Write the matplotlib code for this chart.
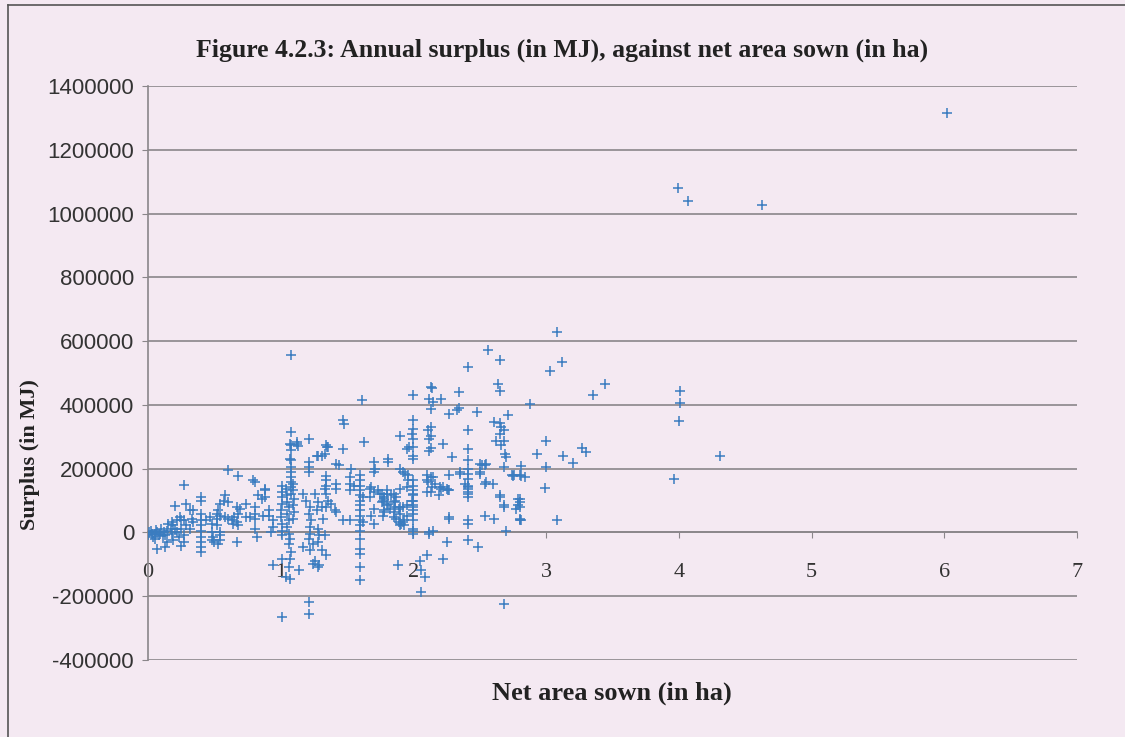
import numpy as np
import matplotlib.pyplot as plt
from matplotlib.lines import Line2D

# (net area sown in ha, annual surplus in MJ), grouped roughly by area
near_origin = [
    (0.00, -9000), (0.02, 6000), (0.03, -4000), (0.04, -15000), (0.05, -20000),
    (0.07, 1000), (0.07, -51000), (0.08, -9000), (0.09, -4000), (0.10, 12000),
    (0.12, 1000), (0.13, -9000), (0.13, -46000), (0.14, 6000), (0.14, -30000),
    (0.15, 27000), (0.17, 12000), (0.18, 32000), (0.18, -4000), (0.19, 22000),
    (0.19, -25000), (0.20, 12000), (0.20, 82000), (0.22, 38000), (0.22, 1000),
    (0.23, -15000), (0.24, 48000), (0.25, 38000), (0.25, 12000), (0.25, -41000),
    (0.27, 150000), (0.27, 38000), (0.27, -9000), (0.27, -30000), (0.29, 90000),
    (0.29, 22000), (0.32, 69000), (0.32, 12000), (0.33, 43000), (0.34, 69000),
    (0.34, 32000), (0.01, 0), (0.05, -5000), (0.11, -12000), (0.06, 8000),
]
half_ha = [
    (0.40, 111000), (0.40, 100000), (0.40, 59000), (0.40, 38000), (0.40, 22000),
    (0.40, 6000), (0.40, -15000), (0.40, -30000), (0.40, -46000), (0.40, -62000),
    (0.44, 38000), (0.47, 48000), (0.48, 27000), (0.52, 43000), (0.52, 22000),
    (0.48, 1000), (0.49, -15000), (0.48, -25000), (0.54, 1000), (0.54, -9000),
    (0.54, -25000), (0.53, -35000), (0.50, -30000), (0.53, 69000), (0.54, 53000),
    (0.52, 59000), (0.58, 48000), (0.60, 43000), (0.63, 38000), (0.58, 116000),
    (0.57, 100000), (0.54, 90000), (0.60, 95000), (0.60, 197000), (0.68, 176000),
    (0.67, 79000), (0.68, 59000), (0.65, 48000), (0.67, 32000), (0.64, 27000),
    (0.68, 22000), (0.69, 74000), (0.74, 90000), (0.67, -30000), (0.77, 48000),
    (0.74, 48000), (0.79, 163000), (0.81, 158000), (0.83, 116000), (0.81, 79000),
    (0.81, 59000), (0.81, 43000), (0.81, 12000), (0.82, -15000), (0.88, 111000),
    (0.88, 134000),
]
one_ha = [
    (0.88, 137000), (0.86, 106000), (0.87, 53000), (0.91, 69000), (0.91, 53000),
    (0.94, 38000), (0.94, 17000), (0.93, 1000), (0.94, -103000),
    (1.01, 147000), (1.01, 126000), (1.01, 111000), (1.01, 90000), (1.00, 69000),
    (1.00, 48000), (1.01, 27000), (1.01, 6000), (1.01, -9000), (1.01, -82000),
    (1.01, -265000), (1.04, 137000), (1.05, 116000), (1.05, 95000), (1.06, 79000),
    (1.05, 59000), (1.06, 38000), (1.05, 17000), (1.06, -4000), (1.07, -20000),
    (1.06, -35000), (1.08, -62000), (1.07, -82000), (1.06, -109000), (1.04, -140000),
    (1.07, -145000), (1.09, 153000), (1.09, 132000), (1.10, 106000), (1.09, 85000),
    (1.10, 64000), (1.09, 43000), (1.14, -119000), (1.08, 555000), (1.08, 314000),
    (1.07, 278000), (1.08, 273000), (1.12, 283000), (1.13, 270000), (1.12, 278000),
    (1.08, 257000), (1.07, 231000), (1.08, 226000), (1.08, 205000), (1.08, 189000),
    (1.08, 173000), (1.08, 158000), (1.08, 142000), (1.08, 121000),
]
one_and_quarter_ha = [
    (1.17, 121000), (1.19, 100000), (1.22, 79000), (1.21, 59000), (1.23, 38000),
    (1.22, 17000), (1.22, -4000), (1.21, -20000), (1.24, -35000), (1.22, -56000),
    (1.17, -46000), (1.21, -218000), (1.21, -255000), (1.21, 294000), (1.21, 220000),
    (1.21, 205000), (1.21, 189000), (1.26, 121000), (1.28, 95000), (1.31, 79000),
    (1.27, 69000), (1.32, 43000), (1.28, 12000), (1.29, -9000), (1.28, -30000),
    (1.31, -56000), (1.26, -88000), (1.24, -98000), (1.28, -109000), (1.29, -103000),
    (1.34, -72000), (1.33, -9000), (1.34, 79000), (1.36, 100000), (1.38, 90000),
    (1.41, 69000), (1.42, 64000), (1.35, 267000), (1.33, 247000), (1.28, 241000),
    (1.31, 241000), (1.27, 241000), (1.36, 267000), (1.34, 273000), (1.34, 176000),
    (1.34, 163000), (1.34, 147000), (1.33, 137000), (1.34, 121000), (1.42, 153000),
    (1.42, 137000), (1.42, 215000), (1.44, 213000), (1.47, 353000), (1.48, 341000),
    (1.47, 262000), (1.47, 38000), (1.52, 38000), (1.52, 173000), (1.53, 200000),
    (1.52, 153000), (1.52, 132000), (1.55, 147000),
]
one_and_half_ha = [
    (1.60, 179000), (1.60, 163000), (1.60, 147000), (1.60, 132000), (1.60, 116000),
    (1.60, 100000), (1.60, 85000), (1.60, 69000), (1.60, 53000), (1.60, 38000),
    (1.60, 22000), (1.60, 6000), (1.60, -20000), (1.60, -51000), (1.60, -67000),
    (1.60, -109000), (1.60, -150000), (1.61, 416000), (1.63, 283000), (1.62, 111000),
    (1.62, 32000), (1.67, 137000), (1.70, 189000), (1.71, 200000), (1.70, 220000),
    (1.68, 142000), (1.70, 126000), (1.67, 111000), (1.70, 74000), (1.68, 53000),
    (1.70, 27000), (1.73, 132000), (1.75, 121000), (1.76, 121000), (1.78, 111000),
    (1.78, 106000), (1.80, 132000), (1.76, 95000), (1.81, 90000), (1.78, 64000),
    (1.77, 53000), (1.83, 116000), (1.86, 100000), (1.85, 95000), (1.87, 111000),
    (1.82, 74000), (1.85, 64000), (1.85, 48000), (1.89, 32000), (1.91, 27000),
    (1.93, 22000), (1.89, 74000), (1.92, 79000), (1.90, 79000), (1.95, 53000),
    (1.93, 38000), (1.90, 59000), (1.95, 85000), (1.99, 100000), (1.81, 231000),
    (1.81, 220000), (1.88, -103000),
]
two_ha = [
    (1.94, 184000), (1.96, 163000), (1.95, 142000), (1.90, 137000), (1.85, 121000),
    (1.80, 121000), (1.77, 100000), (1.80, 85000), (1.78, 69000), (1.86, 79000),
    (1.87, 43000), (1.92, 32000), (1.90, 22000), (2.00, 38000), (2.00, 163000),
    (2.00, 147000), (2.00, 132000), (2.00, 121000), (2.00, 116000), (2.00, 100000),
    (2.00, 85000), (2.00, 79000), (2.00, 69000), (2.00, 59000), (2.00, 12000),
    (2.00, 6000), (2.00, -4000), (1.90, 200000), (1.92, 189000), (1.96, 179000),
    (2.00, 430000), (2.00, 353000), (2.00, 325000), (2.00, 294000), (2.00, 267000),
    (2.00, 241000), (2.00, 231000), (1.90, 301000), (1.99, 309000), (1.97, 267000),
    (1.95, 262000),
]
two_and_quarter_ha = [
    (2.10, 163000), (2.14, 142000), (2.16, 153000), (2.22, 142000), (2.25, 137000),
    (2.27, 132000), (2.19, 116000), (2.10, 126000), (2.10, 179000), (2.11, 158000),
    (2.20, 142000), (2.21, 137000), (2.26, 132000), (2.15, 173000), (2.13, 126000),
    (2.13, 173000), (2.27, 179000), (2.27, 48000), (2.27, 43000), (2.15, 6000),
    (2.12, 1000), (2.12, -4000), (2.25, -30000), (2.22, -82000), (2.10, -72000),
    (2.05, -88000), (2.06, -119000), (2.09, -140000), (2.06, -187000),
    (2.14, 452000), (2.13, 455000), (2.12, 419000), (2.15, 408000), (2.21, 419000),
    (2.13, 388000), (2.13, 332000), (2.11, 320000), (2.13, 304000), (2.12, 294000),
    (2.13, 264000), (2.12, 255000), (2.22, 278000), (2.29, 238000), (2.27, 372000),
    (2.34, 440000), (2.34, 391000), (2.33, 385000),
]
two_and_half_ha = [
    (2.35, 189000), (2.35, 184000), (2.41, 200000), (2.41, 184000), (2.41, 168000),
    (2.39, 153000), (2.41, 147000), (2.41, 142000), (2.41, 137000), (2.41, 126000),
    (2.41, 121000), (2.41, 111000), (2.41, 38000), (2.41, 27000), (2.41, -25000),
    (2.49, -46000), (2.50, 189000), (2.50, 184000), (2.50, 215000), (2.52, 210000),
    (2.54, 213000), (2.55, 215000), (2.55, 158000), (2.54, 153000), (2.60, 153000),
    (2.54, 53000), (2.61, 43000), (2.65, 116000), (2.65, 111000), (2.68, 85000),
    (2.68, 79000), (2.68, 205000), (2.41, 520000), (2.41, 322000), (2.41, 262000),
    (2.41, 226000), (2.48, 377000), (2.56, 571000), (2.65, 541000), (2.64, 466000),
    (2.65, 443000), (2.61, 346000), (2.65, 343000), (2.66, 330000), (2.68, 320000),
    (2.65, 309000), (2.68, 288000), (2.62, 288000), (2.66, 273000), (2.69, 247000),
    (2.70, 236000), (2.71, 367000), (2.70, 4000), (2.68, -224000),
]
three_ha = [
    (2.74, 179000), (2.76, 179000), (2.80, 179000), (2.84, 173000), (2.75, 177000),
    (2.81, 177000), (2.81, 209000), (2.79, 106000), (2.80, 104000), (2.80, 95000),
    (2.79, 85000), (2.77, 74000), (2.80, 79000), (2.80, 43000), (2.80, 38000),
    (2.81, 40000), (2.88, 402000), (2.93, 247000), (3.00, 286000), (3.00, 205000),
    (2.99, 140000), (3.08, 38000), (3.03, 505000), (3.08, 628000), (3.12, 534000),
    (3.13, 241000), (3.20, 218000), (3.27, 264000), (3.30, 251000), (3.35, 432000),
    (3.44, 466000),
]
large_farms = [
    (3.96, 168000), (4.00, 349000), (4.01, 405000), (4.01, 442000), (4.31, 241000),
    (3.99, 1079000), (4.07, 1038000), (4.63, 1027000), (6.02, 1315000),
]

groups = [near_origin, half_ha, one_ha, one_and_quarter_ha, one_and_half_ha,
          two_ha, two_and_quarter_ha, two_and_half_ha, three_ha, large_farms]
pts = np.array([p for g in groups for p in g], dtype=float)
area, surplus = pts[:, 0], pts[:, 1]

x_ticks = [0, 1, 2, 3, 4, 5, 6, 7]
y_ticks = [-400000, -200000, 0, 200000, 400000, 600000, 800000, 1000000, 1200000, 1400000]

bg = '#f4e9f2'
grid_c = '#8a868a'
serif = ['Liberation Serif', 'DejaVu Serif']
W, H = 1125, 737

fig = plt.figure(figsize=(W / 100, H / 100), dpi=100, facecolor=bg)
ax = fig.add_axes([148 / W, 1 - 660 / H, (1077 - 148) / W, (660 - 86) / H])
ax.set_facecolor('none')

# x axis crosses at zero; set this first since it resets the ticks
for s in ['top', 'right']:
    ax.spines[s].set_visible(False)
ax.spines['bottom'].set_position(('data', 0))
for s in ['bottom', 'left']:
    ax.spines[s].set_color(grid_c)
    ax.spines[s].set_linewidth(1.2)

ax.plot(area, surplus, linestyle='none', marker='+', markersize=6.5,
        markeredgewidth=1.1, color='#3a7cc0', zorder=3)

ax.set_xlim(0, 7)
ax.set_ylim(-400000, 1400000)
ax.set_xticks(x_ticks)
ax.set_yticks(y_ticks)
ax.set_yticklabels([str(v) for v in y_ticks], family='Liberation Sans', fontsize=16,
                   color='#333333')
ax.set_xticklabels([str(v) for v in x_ticks], family=serif, fontsize=16, color='#333333')
ax.tick_params(axis='x', direction='out', length=4, color=grid_c, pad=18)
ax.tick_params(axis='y', direction='out', length=4, color=grid_c, pad=6)
ax.yaxis.grid(True, color=grid_c, linewidth=1.2)
ax.set_axisbelow(True)

fig.text(30 / W, 1 - 455 / H, 'Surplus (in MJ)', family=serif, fontsize=16,
         fontweight='bold', color='#222222', rotation=90, ha='center', va='center')
fig.text(612 / W, 1 - 693 / H, 'Net area sown (in ha)', family=serif, fontsize=19,
         fontweight='bold', color='#222222', ha='center', va='center')
fig.text(562 / W, 1 - 50 / H,
         'Figure 4.2.3: Annual surplus (in MJ), against net area sown (in ha)',
         family=serif, fontsize=18.5, fontweight='bold', color='#222222',
         ha='center', va='center')

# frame around the chart (left and top edges)
for (x0, y0, x1, y1) in [(8, 5, W, 5), (8, 5, 8, H)]:
    fig.add_artist(Line2D([x0 / W, x1 / W], [1 - y0 / H, 1 - y1 / H],
                          color='#555555', linewidth=1.2))

fig.savefig('out.png', dpi=100, facecolor=bg)
